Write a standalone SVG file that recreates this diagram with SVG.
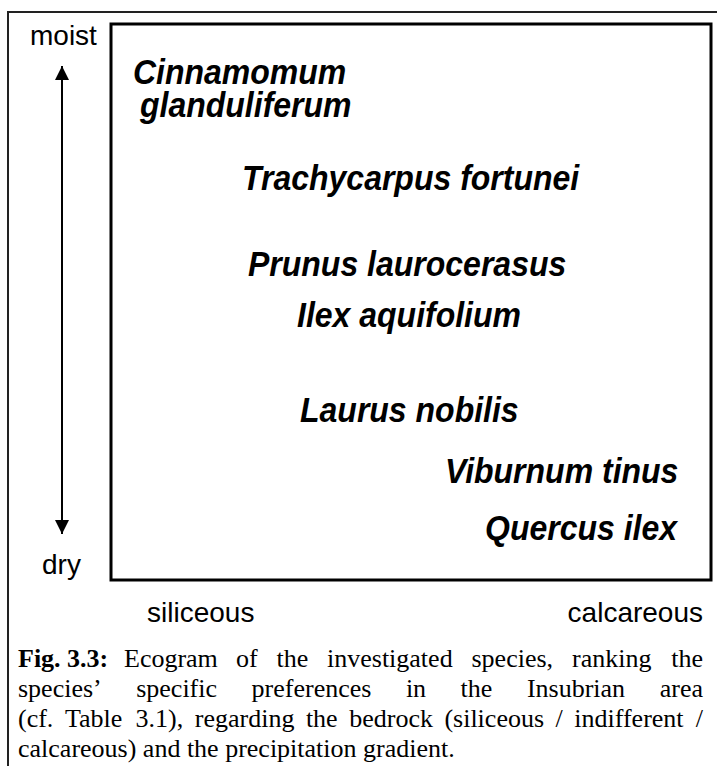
<svg xmlns="http://www.w3.org/2000/svg" width="717" height="766" viewBox="0 0 717 766">
<defs>
<style>
.sp{font-family:"Liberation Sans",Arial,sans-serif;font-size:32px;font-weight:bold;font-style:italic;fill:#000}
.ax{font-family:"Liberation Sans",Arial,sans-serif;font-size:28px;fill:#000}
.cap{font-family:"Liberation Serif","Times New Roman",serif;font-size:26px;fill:#000}
.frame{fill:none;stroke:#222;stroke-width:2}
.box{fill:none;stroke:#000;stroke-width:3}
.conn{stroke:#000;stroke-width:2;fill:none}
</style>
<marker id="ah" viewBox="0 0 10 10" refX="10" refY="5" markerWidth="7" markerHeight="7" markerUnits="strokeWidth" orient="auto-start-reverse">
<path d="M0,0 L10,5 L0,10 z" fill="#000"/>
</marker>
</defs>
<rect width="717" height="766" fill="#fff"/>
<path class="frame" d="M8,767 V12 H718"/>
<g id="ecogram-box"><rect class="box" x="111" y="24" width="600" height="556"/></g>
<g id="connectors">
<line class="conn" x1="62" y1="66" x2="62" y2="534" marker-start="url(#ah)" marker-end="url(#ah)"/>
</g>
<g id="axis-labels">
<text class="ax" x="30" y="45">moist</text>
<text class="ax" x="42" y="574">dry</text>
<text class="ax" x="147" y="622">siliceous</text>
<text class="ax" x="703" y="622" text-anchor="end">calcareous</text>
</g>
<g id="cinnamomum"><text class="sp" transform="translate(133,84) scale(1,1.08)">Cinnamomum</text><text class="sp" transform="translate(140,117) scale(1,1.08)">glanduliferum</text></g>
<g id="trachycarpus"><text class="sp" transform="translate(242,190) scale(1,1.08)">Trachycarpus fortunei</text></g>
<g id="prunus"><text class="sp" transform="translate(248,276) scale(1,1.08)">Prunus laurocerasus</text></g>
<g id="ilex"><text class="sp" transform="translate(297,327) scale(1,1.08)">Ilex aquifolium</text></g>
<g id="laurus"><text class="sp" transform="translate(300,422) scale(1,1.08)">Laurus nobilis</text></g>
<g id="viburnum"><text class="sp" transform="translate(445,483) scale(1,1.08)">Viburnum tinus</text></g>
<g id="quercus"><text class="sp" transform="translate(485,540) scale(1,1.08)">Quercus ilex</text></g>
<g id="caption" class="cap">
<text class="cap" y="667"><tspan x="18" font-weight="bold">Fig. 3.3:</tspan><tspan x="124">Ecogram</tspan><tspan x="236">of</tspan><tspan x="276.5">the</tspan><tspan x="327">investigated</tspan><tspan x="471.5">species,</tspan><tspan x="572">ranking</tspan></text>
<text class="cap" x="703" y="667" text-anchor="end">the</text>
<text class="cap" y="697"><tspan x="18">species’</tspan><tspan x="136.2">specific</tspan><tspan x="251.6">preferences</tspan><tspan x="405.9">in</tspan><tspan x="460.6">the</tspan><tspan x="526.9">Insubrian</tspan></text>
<text class="cap" x="703" y="697" text-anchor="end">area</text>
<text class="cap" y="727"><tspan x="18">(cf.</tspan><tspan x="64.9">Table</tspan><tspan x="135.6">3.1),</tspan><tspan x="194.8">regarding</tspan><tspan x="305.9">the</tspan><tspan x="349.2">bedrock</tspan><tspan x="444.4">(siliceous</tspan><tspan x="555.6">/</tspan><tspan x="574.3">indifferent</tspan></text>
<text class="cap" x="703" y="727" text-anchor="end">/</text>
<text class="cap" x="18" y="757">calcareous) and the precipitation gradient.</text>
</g>
</svg>
